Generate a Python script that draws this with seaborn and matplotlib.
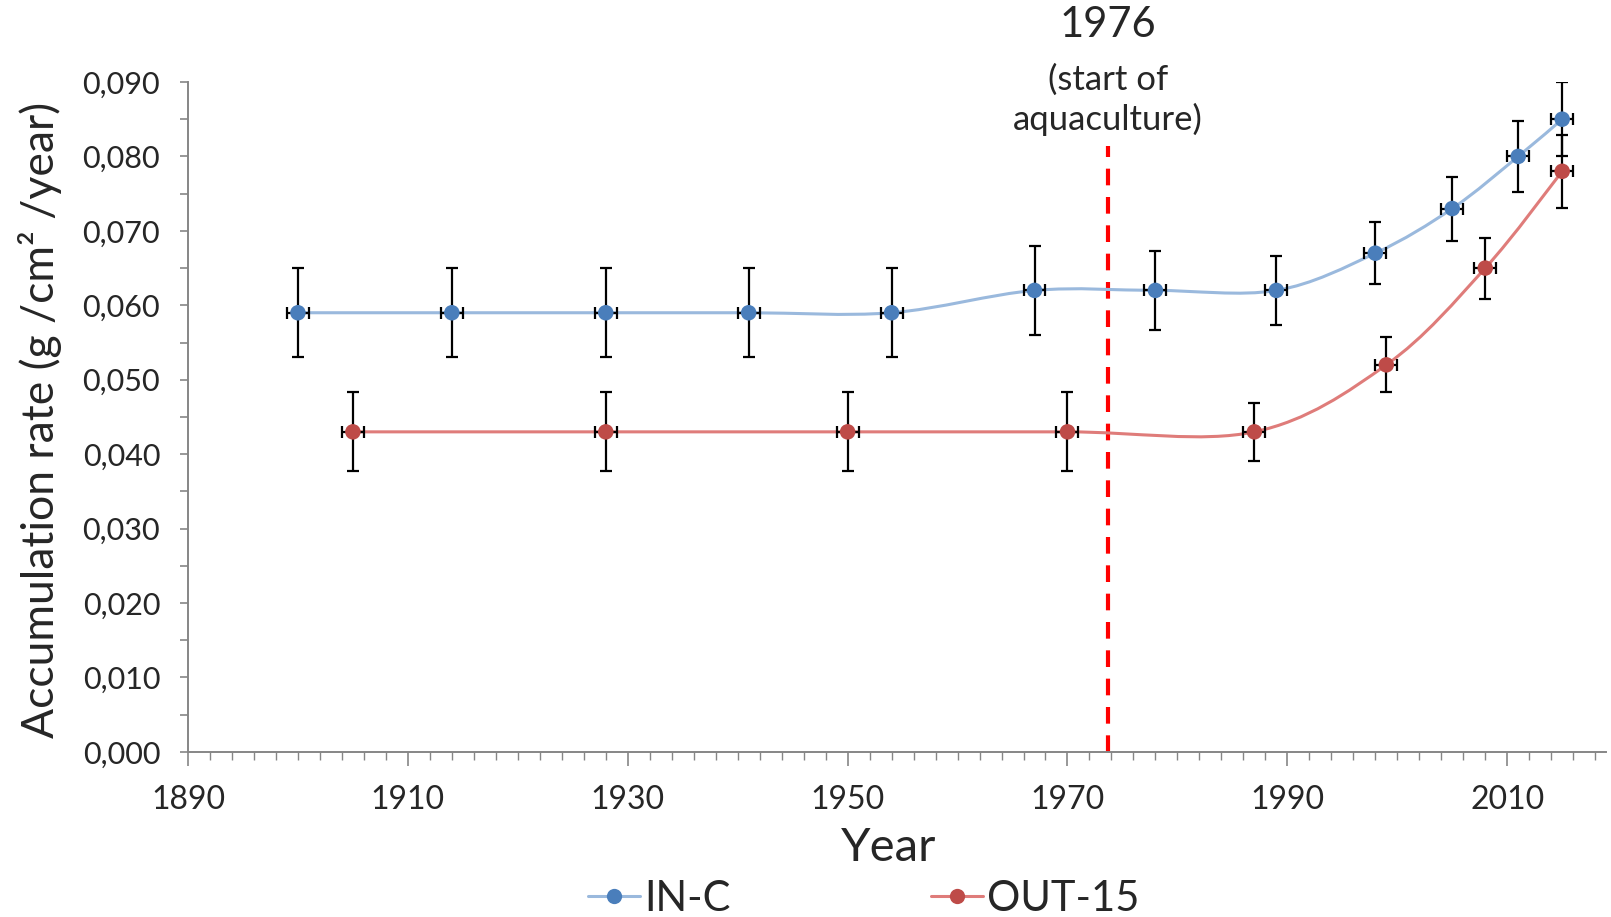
import matplotlib
matplotlib.use('Agg')
import matplotlib.pyplot as plt
import seaborn as sns
from matplotlib.lines import Line2D
from matplotlib.path import Path
from matplotlib.patches import PathPatch
from matplotlib.ticker import MultipleLocator, FuncFormatter

# datos
years_in = [1900, 1914, 1928, 1941, 1954, 1967, 1978, 1989, 1998, 2005, 2011, 2015]
rate_in = [0.059, 0.059, 0.059, 0.059, 0.059, 0.062, 0.062, 0.062, 0.067, 0.073, 0.080, 0.085]
err_in = [0.006, 0.006, 0.006, 0.006, 0.006, 0.006, 0.0053, 0.0046, 0.0042, 0.0043, 0.0048, 0.005]

years_out = [1905, 1928, 1950, 1970, 1987, 1999, 2008, 2015]
rate_out = [0.043, 0.043, 0.043, 0.043, 0.043, 0.052, 0.065, 0.078]
err_out = [0.0053, 0.0053, 0.0053, 0.0053, 0.0039, 0.0037, 0.0041, 0.0049]

year_err = 1.0
aquaculture_x = 1973.7
aquaculture_top = 0.0814

series_names = ['IN-C', 'OUT-15']


def smooth_path(xs, ys):
    """Curva suave tipo Excel (Bezier cubica, tension 1/6) en coordenadas de datos."""
    pts = list(zip(xs, ys))
    verts = [pts[0]]
    codes = [Path.MOVETO]
    n = len(pts)
    for i in range(n - 1):
        p0 = pts[i - 1] if i > 0 else pts[i]
        p1 = pts[i]
        p2 = pts[i + 1]
        p3 = pts[i + 2] if i + 2 < n else pts[i + 1]
        c1 = (p1[0] + (p2[0] - p0[0]) / 6, p1[1] + (p2[1] - p0[1]) / 6)
        c2 = (p2[0] - (p3[0] - p1[0]) / 6, p2[1] - (p3[1] - p1[1]) / 6)
        verts += [c1, c2, p2]
        codes += [Path.CURVE4] * 3
    return Path(verts, codes)


sns.set_style('white')
plt.rcParams['font.family'] = ['Lato', 'DejaVu Sans']

fig = plt.figure(figsize=(16.11, 9.17), dpi=100)
ax = fig.add_axes([0.1167, 0.180, 0.8803, 0.7306])

estilos = [
    (years_in, rate_in, err_in, '#9ab9dd', '#4a7ebb'),
    (years_out, rate_out, err_out, '#df7c7a', '#be4b48'),
]

for xs, ys, errs, line_col, mark_col in estilos:
    ax.add_patch(PathPatch(smooth_path(xs, ys), fill=False, edgecolor=line_col, lw=2.2, zorder=1))
    ax.errorbar(xs, ys, yerr=errs, xerr=year_err, fmt='none', ecolor='black',
                elinewidth=1.6, capsize=4, capthick=1.6, zorder=2)
    sns.scatterplot(x=xs, y=ys, color=mark_col, s=125, edgecolor='none', ax=ax, zorder=3)

# linea del inicio de la acuicultura
ax.plot([aquaculture_x, aquaculture_x], [0, aquaculture_top], color='#ff0000', lw=3,
        linestyle=(0, (4, 2.8)), zorder=0)
ax.text(aquaculture_x, 0.0976, '1976', ha='center', va='center', fontsize=30, clip_on=False)
ax.text(aquaculture_x, 0.0876, '(start of\naquaculture)', ha='center', va='center',
        fontsize=25, linespacing=1.27, clip_on=False)

ax.set_xlim(1890, 2019)
ax.set_ylim(0, 0.090)
ax.xaxis.set_major_locator(MultipleLocator(20, offset=10))
ax.xaxis.set_minor_locator(MultipleLocator(2))
ax.yaxis.set_major_locator(MultipleLocator(0.01))
ax.yaxis.set_minor_locator(MultipleLocator(0.005))
ax.yaxis.set_major_formatter(FuncFormatter(lambda v, p: f'{v:.3f}'.replace('.', ',')))

for s in ['top', 'right']:
    ax.spines[s].set_visible(False)
for s in ['left', 'bottom']:
    ax.spines[s].set_color('#868686')
    ax.spines[s].set_linewidth(1.4)

ax.tick_params(axis='x', which='major', direction='out', length=10, width=1.2, color='#868686',
               labelsize=23, pad=14, bottom=True)
ax.tick_params(axis='x', which='minor', direction='out', length=6, width=1.0, color='#868686', bottom=True)
ax.tick_params(axis='y', which='both', direction='out', length=6, width=1.2, color='#868686',
               labelsize=22, pad=14, left=True)

ax.set_xlabel('Year', fontsize=34)
ax.xaxis.set_label_coords(0.494, -0.112)
ax.set_ylabel('Accumulation rate (g /cm² /year)', fontsize=32)
ax.yaxis.set_label_coords(-0.089, 0.496)

handles = [
    Line2D([], [], color='#9ab9dd', lw=2.2, marker='o', markersize=11,
           markerfacecolor='#4a7ebb', markeredgecolor='none'),
    Line2D([], [], color='#df7c7a', lw=2.2, marker='o', markersize=11,
           markerfacecolor='#be4b48', markeredgecolor='none'),
]
fig.legend(handles, series_names, loc='center', bbox_to_anchor=(0.536, 0.020), ncol=2,
           frameon=False, fontsize=30, handlelength=1.25, handletextpad=0.1, columnspacing=4.8,
           borderpad=0)

fig.savefig('out.png', dpi=100)
plt.close(fig)
